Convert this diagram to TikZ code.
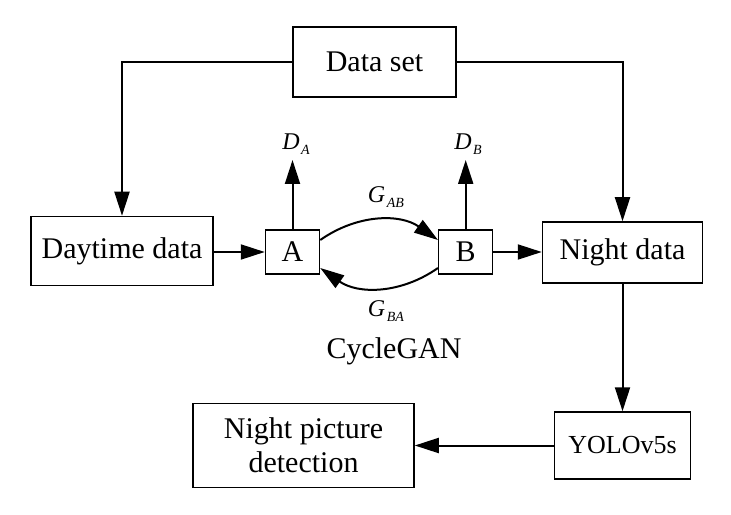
\documentclass[tikz,border=0pt]{standalone}
\usepackage{fontspec}
\setmainfont{Liberation Serif}
\usetikzlibrary{arrows.meta}

\newcommand{\sublbl}[2]{{\fontsize{12}{14}\selectfont\itshape #1\kern0.8pt\raisebox{-2.5pt}{\fontsize{7}{8}\selectfont #2}}}

\begin{document}
\begin{tikzpicture}[x=0.5pt, y=0.5pt,
		box/.style={draw, line width=0.75pt, inner sep=0pt, align=center, font=\fontsize{15}{17}\selectfont},
		arr/.style={line width=1pt, -{Triangle[length=12pt, width=7.5pt]}}]
					\useasboundingbox (0, 0) rectangle (731, 514);

					\node[box, minimum width=81.5pt, minimum height=35pt] (data) at (374.5, 452) {Data set};
					\node[box, minimum width=91pt, minimum height=34.5pt] (day) at (122, 263) {Daytime data};
					\node[box, minimum width=27pt, minimum height=22pt] (A) at (292.5, 262) {A};
					\node[box, minimum width=27pt, minimum height=22pt] (B) at (465.7, 262) {B};
					\node[box, minimum width=80pt, minimum height=30.5pt] (night) at (622.5, 261.5) {Night data};
					\node[box, minimum width=68pt, minimum height=33.5pt, font=\fontsize{13}{15}\selectfont] (yolo) at (622.5, 68.5) {YOLOv5s};
					\node[box, minimum width=110.5pt, minimum height=42pt] (npd) at (303.5, 68.5) {Night picture\\detection};

					\coordinate (DAtip) at (292.5, 354);
					\node (DA) at (296, 370) {\sublbl{D}{A}};
					\coordinate (DBtip) at (465.7, 354);
					\node (DB) at (468, 370) {\sublbl{D}{B}};
					\node (GAB) at (386, 317) {\sublbl{G}{AB}};
					\node (GBA) at (386, 203) {\sublbl{G}{BA}};
					\node[anchor=base, font=\fontsize{15}{17}\selectfont] (cyc) at (394, 156) {CycleGAN};

					\draw[arr] (data.west) -| (day.north);
					\draw[arr] (data.east) -| (night.north);
					\draw[arr] (day.east |- A.west) -- (A.west);
					\draw[arr] (B.east) -- (B.east -| night.west);
					\draw[arr] (A.north) -- (DAtip);
					\draw[arr] (B.north) -- (DBtip);
					\draw[arr] ([yshift=6pt]A.east) to[bend left=35] ([yshift=6pt]B.west);
					\draw[arr] ([yshift=-8pt]B.west) to[bend left=35] ([yshift=-8pt]A.east);
					\draw[arr] (night.south) -- (yolo.north);
					\draw[arr] (yolo.west) -- (npd.east);
                \end{tikzpicture}
\end{document}
